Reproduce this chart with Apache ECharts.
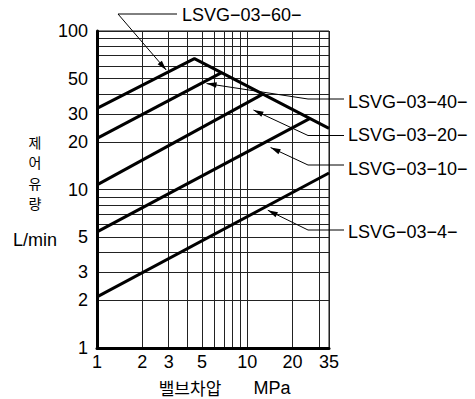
<!DOCTYPE html>
<html><head><meta charset="utf-8">
<script src="https://cdn.jsdelivr.net/npm/echarts@6/dist/echarts.min.js"></script>
<style>html,body{margin:0;padding:0;background:#fff}#c{width:475px;height:399px}</style>
</head><body><div id="c"></div>
<script>
// ---- data ----
const xGridValues = [1, 2, 3, 4, 5, 6, 7, 8, 9, 10, 20, 30, 35];
const xTickLabels = [1, 2, 3, 5, 10, 20, 35];
const yGridValues = [1, 2, 3, 4, 5, 6, 7, 8, 9, 10, 20, 30, 40, 50, 60, 70, 80, 90, 100];
const yTickLabels = [1, 2, 3, 5, 10, 20, 30, 50, 100];
const seriesNames = ['LSVG−03−60−', 'LSVG−03−40−', 'LSVG−03−20−', 'LSVG−03−10−', 'LSVG−03−4−'];
const s60 = [[1, 32.5], [4.45, 67], [35, 24.3]];
const s40 = [[1, 21], [6.75, 54.6]];
const s20 = [[1, 10.7], [12.7, 40]];
const s10 = [[1, 5.4], [26, 28]];
const s4  = [[1, 2.1], [35, 12.7]];
const arrowTips = [[2.89, 56.7], [5.36, 46.6], [11.0, 31.7], [14.3, 18.4], [13.7, 7.4]];
const xTitle = '밸브차압';
const xUnit = 'MPa';
const yTitle = ['제', '어', '유', '량'];
const yUnit = 'L/min';

// ---- layout (pixels) ----
const labelLayout = [
  {elbow: [118, 14], end: [177, 14], text: [182, 15]},
  {elbow: [308, 99], end: [344, 99], text: [348, 102]},
  {elbow: [308, 135.5], end: [344, 135.5], text: [348, 135]},
  {elbow: [308, 165], end: [344, 165], text: [348, 169]},
  {elbow: [308, 230], end: [344, 230], text: [348, 231.5]}
];
const latin = '"Liberation Sans", Arial, sans-serif';
const cjk = '"Noto Sans CJK KR", sans-serif';

const chart = echarts.init(document.getElementById('c'), null, {renderer: 'svg'});
const allSeries = [s60, s40, s20, s10, s4];
const option = {
  animation: false,
  backgroundColor: '#fff',
  grid: {left: 97, top: 31, width: 232, height: 317, show: true, borderColor: '#111', borderWidth: 1, backgroundColor: 'transparent'},
  xAxis: {
    type: 'log', logBase: 10, min: 1, max: 35,
    axisLine: {show: true, onZero: false, lineStyle: {color: '#000', width: 3}},
    axisTick: {show: false, customValues: xGridValues},
    axisLabel: {customValues: xTickLabels, color: '#000', fontSize: 18, fontFamily: latin, margin: 5,
      formatter: v => String(Math.round(v)), hideOverlap: false},
    splitLine: {show: true, lineStyle: {color: '#222', width: 1}}
  },
  yAxis: {
    type: 'log', logBase: 10, min: 1, max: 100,
    axisLine: {show: true, onZero: false, lineStyle: {color: '#000', width: 3}},
    axisTick: {show: false, customValues: yGridValues},
    axisLabel: {customValues: yTickLabels, color: '#000', fontSize: 18, fontFamily: latin, margin: 9,
      formatter: v => String(Math.round(v)), hideOverlap: false},
    splitLine: {show: true, lineStyle: {color: '#222', width: 1}}
  },
  series: allSeries.map((d, i) => ({
    name: seriesNames[i], type: 'line', data: d, symbol: 'none', z: 5, silent: true,
    lineStyle: {color: '#000', width: 3}
  }))
};
chart.setOption(option);

// ---- annotations ----
const g = [];
arrowTips.forEach((tp, i) => {
  const T = chart.convertToPixel({gridIndex: 0}, tp);
  const L = labelLayout[i];
  g.push({type: 'polyline', shape: {points: [T, L.elbow, L.end]}, style: {stroke: '#000', lineWidth: 1, fill: null}, z: 10});
  const dx = T[0] - L.elbow[0], dy = T[1] - L.elbow[1];
  const len = Math.hypot(dx, dy), ux = dx / len, uy = dy / len;
  const al = 10, aw = 2.8;
  const bx = T[0] - ux * al, by = T[1] - uy * al;
  g.push({type: 'polygon', shape: {points: [T, [bx - uy * aw, by + ux * aw], [bx + uy * aw, by - ux * aw]]}, style: {fill: '#000'}, z: 10});
  g.push({type: 'text', x: L.text[0], y: L.text[1], style: {text: seriesNames[i], font: '18px ' + latin, fill: '#000', align: 'left', verticalAlign: 'middle', textAlign: 'left', textVerticalAlign: 'middle'}, z: 10});
});
g.push({type: 'text', x: 190, y: 387, style: {text: xTitle, font: '17px ' + cjk, fill: '#000', align: 'center', verticalAlign: 'middle', textAlign: 'center', textVerticalAlign: 'middle'}});
g.push({type: 'text', x: 272, y: 388, style: {text: xUnit, font: '18px ' + latin, fill: '#000', align: 'center', verticalAlign: 'middle', textAlign: 'center', textVerticalAlign: 'middle'}});
yTitle.forEach((ch, i) => {
  g.push({type: 'text', x: 35, y: 142 + i * 20.3, style: {text: ch, font: '14px ' + cjk, fill: '#000', align: 'center', verticalAlign: 'middle', textAlign: 'center', textVerticalAlign: 'middle'}});
});
g.push({type: 'text', x: 13, y: 240, style: {text: yUnit, font: '18px ' + latin, fill: '#000', align: 'left', verticalAlign: 'middle', textAlign: 'left', textVerticalAlign: 'middle'}});
chart.setOption({graphic: g});
</script></body></html>
